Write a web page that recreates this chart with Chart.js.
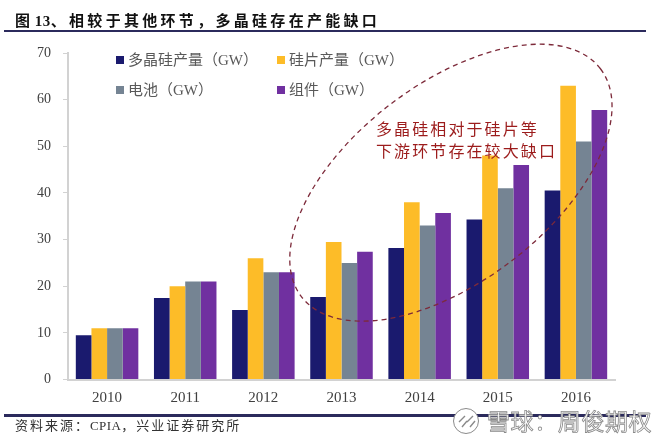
<!DOCTYPE html>
<html lang="zh">
<head>
    <meta charset="UTF-8">
    <title>图 13</title>
    <script src="https://cdn.jsdelivr.net/npm/chart.js"></script>
    <style>
        body {
            margin: 0;
            background: #fff;
            font-family: 'Liberation Serif', 'Noto Sans CJK SC', serif;
        }
        #wrap { position: relative; width: 662px; height: 437px; overflow: hidden; }
        canvas { position: absolute; left: 0; top: 0; }
        .rule { position: absolute; left: 4px; width: 642px; height: 2px; background: #2b2a5c; }
        #title {
            position: absolute; left: 15px; top: 9px;
            font-size: 15px; font-weight: 700; letter-spacing: 3.3px; color: #111; white-space: nowrap;
        }
        #title span { letter-spacing: 0.5px; }
        #source {
            position: absolute; left: 15px; top: 415px;
            font-size: 13px; letter-spacing: 2px; color: #333; white-space: nowrap;
        }
        #source span { letter-spacing: 0.4px; }
        #mark {
            position: absolute; left: 487px; top: 403px;
            font-family: 'Noto Sans CJK SC', sans-serif;
            font-size: 23px; line-height: 34px; color: #fff; white-space: nowrap;
            -webkit-text-stroke: 0.8px #8a8a8a; letter-spacing: 0.6px;
        }
        #logo { position: absolute; left: 452px; top: 407px; }
        .legend-item {
            position: absolute; font-size: 15px; line-height: 18px; color: #595959; white-space: nowrap;
        }
        .legend-item i {
            display: inline-block; width: 8px; height: 8px; margin-right: 4px; vertical-align: 1px;
        }
        .note {
            position: absolute; left: 376px; font-size: 16px; letter-spacing: 2.1px;
            color: #9c1c1c; white-space: nowrap; line-height: 20px;
        }
    </style>
</head>
<body>
<div id="wrap">
    <canvas id="chart" width="662" height="437"></canvas>
    <div id="title"><span>图 13</span>、相较于其他环节，多晶硅存在产能缺口</div>
    <div class="rule" style="top:30px"></div>
    <div class="rule" style="top:414px;height:3px"></div>
    <div id="source">资料来源：<span>CPIA</span>，兴业证券研究所</div>
    <div class="note" style="top:120px">多晶硅相对于硅片等</div>
    <div class="note" style="top:142px">下游环节存在较大缺口</div>
    <div id="legend"></div>
    <svg id="logo" width="28" height="28" viewBox="0 0 28 28">
        <circle cx="14" cy="14" r="12.5" fill="#fff" stroke="#8a8a8a" stroke-width="1"/>
        <path d="M7 15 L13 9 M10 20 L15 14 M15 15 L21 9 M18 20 L23 14" fill="none" stroke="#8a8a8a" stroke-width="1.4"/>
    </svg>
    <div id="mark">雪球：周俊期权</div>
</div>
<script>
    const years = ['2010', '2011', '2012', '2013', '2014', '2015', '2016'];
    const polysilicon = [9.5, 17.5, 14.9, 17.7, 28.2, 34.3, 40.5];
    const wafer = [11, 20, 26, 29.5, 38, 48, 63];
    const cell = [11, 21, 23, 25, 33, 41, 51];
    const modul = [11, 21, 23, 27.4, 35.7, 46, 57.8];

    const seriesNames = ['多晶硅产量（GW）', '硅片产量（GW）', '电池（GW）', '组件（GW）'];
    const seriesColors = ['#1a1a6e', '#fdbc28', '#758493', '#7030a0'];

    // legend sits inside the plot in two rows
    const legendSpots = [[116, 51], [277, 51], [116, 81], [277, 81]];
    seriesNames.forEach((name, i) => {
        const el = document.createElement('div');
        el.className = 'legend-item';
        el.style.left = legendSpots[i][0] + 'px';
        el.style.top = legendSpots[i][1] + 'px';
        el.innerHTML = '<i style="background:' + seriesColors[i] + '"></i>' + name;
        document.getElementById('legend').appendChild(el);
    });

    // dashed ellipse drawn over the bars
    const ellipsePlugin = {
        id: 'ellipseNote',
        afterDatasetsDraw(chart) {
            const { ctx, scales } = chart;
            const cx = scales.x.getPixelForValue(4.4);
            const cy = scales.y.getPixelForValue(42.2);
            ctx.save();
            ctx.strokeStyle = '#7d2a3a';
            ctx.lineWidth = 1.3;
            ctx.setLineDash([5, 4]);
            ctx.beginPath();
            ctx.ellipse(cx, cy, 188, 99, -37.3 * Math.PI / 180, 0, Math.PI * 2);
            ctx.stroke();
            ctx.restore();
        }
    };

    new Chart(document.getElementById('chart'), {
        type: 'bar',
        data: {
            labels: years,
            datasets: [polysilicon, wafer, cell, modul].map((values, i) => ({
                label: seriesNames[i],
                data: values,
                backgroundColor: seriesColors[i],
                categoryPercentage: 0.8,
                barPercentage: 1
            }))
        },
        plugins: [ellipsePlugin],
        options: {
            responsive: false,
            animation: false,
            layout: { padding: { top: 53, right: 47, left: 0, bottom: 0 } },
            plugins: { legend: { display: false }, tooltip: { enabled: false } },
            scales: {
                x: {
                    grid: { display: false, drawTicks: false },
                    border: { color: '#d2d2d2', width: 2 },
                    ticks: {
                        color: '#404040', padding: 10,
                        font: { family: "'Liberation Serif'", size: 15 }
                    },
                    afterFit(scale) { scale.height = 57.5; }
                },
                y: {
                    min: 0, max: 70,
                    grid: { drawOnChartArea: false, color: '#d2d2d2', tickLength: 5 },
                    border: { color: '#d2d2d2', width: 2 },
                    ticks: {
                        stepSize: 10, color: '#404040', padding: 12,
                        font: { family: "'Liberation Serif'", size: 14 }
                    },
                    afterFit(scale) { scale.width = 68; }
                }
            }
        }
    });
</script>
</body>
</html>
